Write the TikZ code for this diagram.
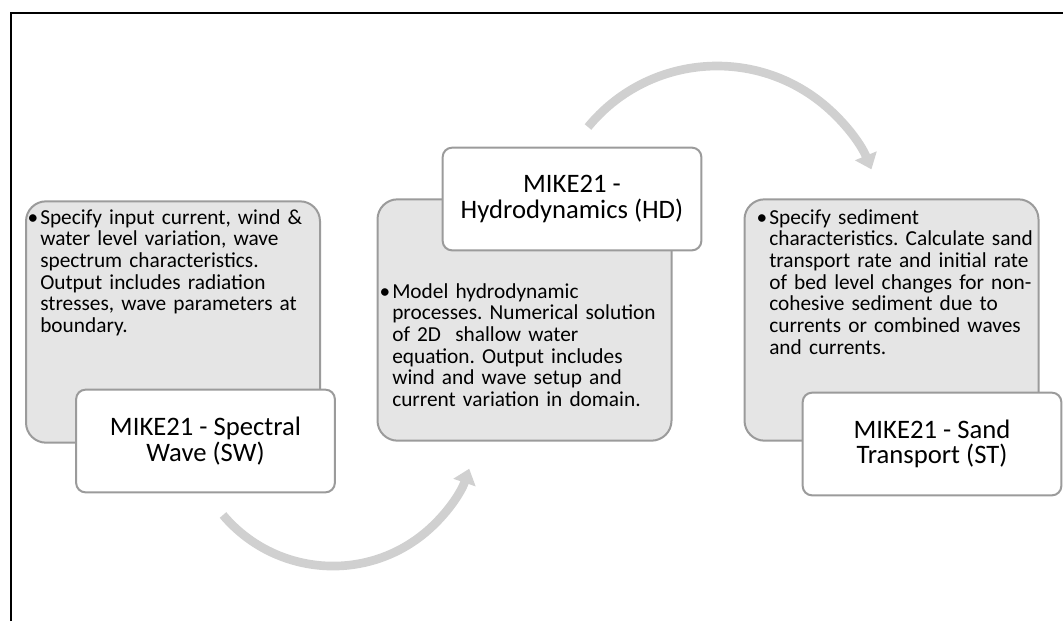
\documentclass[tikz,border=0pt]{standalone}
\usepackage{fontspec}
\setmainfont{Carlito}
\frenchspacing
\usetikzlibrary{arrows.meta}

\definecolor{panelgray}{RGB}{229,229,229}
\definecolor{edgegray}{RGB}{155,155,155}
\definecolor{arcgray}{RGB}{208,208,208}

\tikzstyle{infobox} = [rectangle, draw=edgegray, line width=1.5pt, rounded corners=15pt, fill=panelgray, minimum width=220.5pt, minimum height=181pt]
\tikzstyle{infotext} = [text width=225pt, align=left, anchor=base west, inner sep=0pt, font=\fontsize{16}{16.3}\selectfont]
\tikzstyle{modelbox} = [rectangle, draw=edgegray, line width=1.5pt, rounded corners=7pt, fill=white, minimum width=194pt, minimum height=77pt, align=center, font=\fontsize{20}{19}\selectfont]
\tikzstyle{arcarrow} = [arcgray, line width=6.5pt, -{Triangle[length=11pt,width=17pt]}]

\newcommand{\itembullet}{\llap{\textbullet\hspace{1.5pt}}}

\begin{document}
\begin{tikzpicture}[x=0.75pt, y=-0.75pt]
    \useasboundingbox (0,0) rectangle (1063,621);

    % Frame
    \draw [line width=1.9pt] (11,621) -- (11,13) -- (1063,13);

    % Nodes
    \node (sw) [infobox] at (173,322) {};
    \node (swtext) [infotext] at (40,224) {\itembullet Specify input current, wind \&\\water level variation, wave\\spectrum characteristics.\\Output includes radiation\\stresses, wave parameters at\\boundary.};
    \node (swname) [modelbox] at (205.5,441) {MIKE21 - Spectral\\Wave (SW)};

    \node (hd) [infobox] at (524.5,320) {};
    \node (hdtext) [infotext] at (392,298) {\itembullet Model hydrodynamic\\processes. Numerical solution\\of 2D\ \ shallow water\\equation. Output includes\\wind and wave setup and\\current variation in domain.};
    \node (hdname) [modelbox] at (572,199) {MIKE21 -\\Hydrodynamics (HD)};

    \node (st) [infobox] at (891.5,320) {};
    \node (sttext) [infotext] at (769,224) {\itembullet Specify sediment\\characteristics. Calculate sand\\transport rate and initial rate\\of bed level changes for non-\\cohesive sediment due to\\currents or combined waves\\and currents.};
    \node (stname) [modelbox] at (932,444) {MIKE21 - Sand\\Transport (ST)};

    % Arrows
    \coordinate (swout) at (223,515);
    \coordinate (hdout) at (588,127);
    \draw [arcarrow] (swout) arc[start angle=139.8, end angle=18.9, radius=144];
    \draw [arcarrow] (hdout) arc[start angle=-140.6, end angle=-22.4, radius=167];

\end{tikzpicture}
\end{document}
